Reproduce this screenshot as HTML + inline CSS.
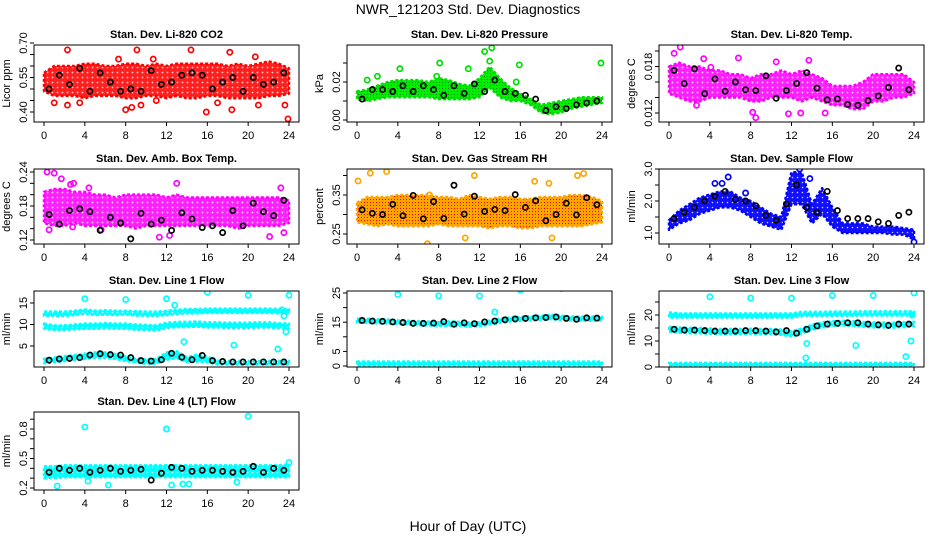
<!DOCTYPE html>
<html><head><meta charset="utf-8"><style>
html,body{margin:0;padding:0;background:#fff;}
svg{display:block;font-family:"Liberation Sans",sans-serif;}
</style></head><body>
<svg id="chart" width="936" height="540" viewBox="0 0 936 540">
<defs>
<pattern id="rhpat" width="3" height="3" patternUnits="userSpaceOnUse"><rect width="3" height="3" fill="#ffa500"/><rect x="1" y="1" width="1" height="1" fill="#ff0000"/></pattern>
<pattern id="grpat" width="3" height="3" patternUnits="userSpaceOnUse"><rect width="3" height="3" fill="#00ee00"/><rect x="1" y="1" width="1" height="1" fill="#008800"/></pattern>
<pattern id="redpat" width="5" height="5" patternUnits="userSpaceOnUse"><rect width="5" height="5" fill="#ff2020"/><circle cx="2.5" cy="2.5" r="0.9" fill="#ffd0d0"/></pattern>
<pattern id="magpat" width="5" height="5" patternUnits="userSpaceOnUse"><rect width="5" height="5" fill="#ff20ff"/><circle cx="2.5" cy="2.5" r="0.9" fill="#ffd8ff"/></pattern>
<pattern id="blupat" width="5" height="5" patternUnits="userSpaceOnUse"><rect width="5" height="5" fill="#1010ff"/><circle cx="2.5" cy="2.5" r="0.8" fill="#c8c8ff"/></pattern>
<pattern id="cynpat" width="5" height="5" patternUnits="userSpaceOnUse"><rect width="5" height="5" fill="#00ffff"/><circle cx="2.5" cy="2.5" r="0.8" fill="#d0ffff"/></pattern>
</defs>
<text x="468" y="14" text-anchor="middle" font-size="14">NWR_121203 Std. Dev. Diagnostics</text>
<text x="468" y="531" text-anchor="middle" font-size="14">Hour of Day (UTC)</text>
</svg>
<script>
const bandHours=[0,1,2,3,4,5,6,7,8,9,10,11,12,13,14,15,16,17,18,19,20,21,22,23,24];
const blackHours=[0.5,1.5,2.5,3.5,4.5,5.5,6.5,7.5,8.5,9.5,10.5,11.5,12.5,13.5,14.5,15.5,16.5,17.5,18.5,19.5,20.5,21.5,22.5,23.5];
const xTicks=[0,4,8,12,16,20,24];

// P1 CO2
const co2Lo=[0.49,0.47,0.47,0.47,0.46,0.47,0.47,0.47,0.46,0.46,0.47,0.47,0.46,0.47,0.46,0.46,0.47,0.47,0.46,0.46,0.46,0.46,0.47,0.47,0.48];
const co2Hi=[0.57,0.60,0.60,0.60,0.61,0.61,0.60,0.60,0.61,0.61,0.60,0.61,0.60,0.61,0.61,0.61,0.61,0.61,0.60,0.61,0.60,0.61,0.62,0.61,0.59];
const co2OutX=[2.3,2.3,3.5,7.3,8,8.6,9.1,9.5,10.7,14.4,15.9,18.2,18.4,20.7,23.9,23.6,21,17,11,1];
const co2OutY=[0.67,0.43,0.44,0.63,0.41,0.42,0.67,0.43,0.63,0.67,0.40,0.66,0.41,0.64,0.37,0.43,0.43,0.44,0.45,0.44];
const co2Black=[0.50,0.56,0.52,0.59,0.49,0.57,0.53,0.49,0.50,0.49,0.58,0.52,0.53,0.56,0.57,0.56,0.50,0.53,0.55,0.49,0.55,0.52,0.53,0.57];
// P2 Pressure
const presLo=[0.011,0.010,0.011,0.012,0.012,0.012,0.012,0.012,0.011,0.011,0.011,0.011,0.012,0.017,0.012,0.010,0.010,0.008,0.004,0.003,0.004,0.006,0.007,0.008,0.009];
const presHi=[0.015,0.016,0.018,0.020,0.021,0.021,0.021,0.020,0.022,0.021,0.019,0.018,0.022,0.028,0.022,0.017,0.014,0.011,0.008,0.009,0.010,0.011,0.012,0.012,0.012];
const presOutX=[4.2,8.1,10.9,12.5,13.2,13,15.9,23.9,1,2,7.8,15.6];
const presOutY=[0.027,0.030,0.027,0.036,0.038,0.031,0.029,0.030,0.021,0.023,0.023,0.020];
const presBlack=[0.011,0.016,0.016,0.015,0.018,0.015,0.018,0.016,0.013,0.018,0.014,0.019,0.015,0.021,0.015,0.014,0.013,0.011,0.005,0.007,0.006,0.008,0.009,0.010];
// P3 Temp
const tmpLo=[0.0145,0.014,0.0135,0.0135,0.014,0.014,0.014,0.014,0.0135,0.0135,0.014,0.014,0.014,0.0135,0.014,0.0135,0.013,0.013,0.0125,0.0125,0.0135,0.0135,0.014,0.014,0.0145];
const tmpHi=[0.018,0.0185,0.018,0.018,0.0175,0.0175,0.017,0.017,0.0165,0.017,0.017,0.0175,0.017,0.0175,0.017,0.0165,0.0155,0.0155,0.0155,0.016,0.017,0.017,0.017,0.017,0.016];
const tmpOutX=[1.1,0.5,3.4,6.8,8.5,8.2,11.7,12.9,15.3,10.5,13.7,4.1,2.7];
const tmpOutY=[0.0205,0.0197,0.0190,0.0191,0.0114,0.0121,0.0119,0.0120,0.0120,0.0186,0.0188,0.0179,0.0130];
const tmpBlack=[0.0175,0.0158,0.0177,0.0145,0.0164,0.0148,0.0160,0.0150,0.0149,0.0168,0.0139,0.0149,0.0158,0.0172,0.0152,0.0137,0.0138,0.0131,0.0130,0.0136,0.0142,0.0153,0.0178,0.0150];
// P4 Amb box temp
const ambLo=[0.15,0.145,0.145,0.15,0.145,0.145,0.145,0.145,0.145,0.14,0.145,0.145,0.145,0.145,0.145,0.145,0.145,0.145,0.145,0.14,0.145,0.145,0.145,0.145,0.15];
const ambHi=[0.205,0.21,0.21,0.205,0.205,0.2,0.2,0.195,0.2,0.2,0.2,0.2,0.195,0.2,0.195,0.195,0.195,0.195,0.195,0.195,0.195,0.195,0.195,0.195,0.19];
const ambOutX=[0.3,1,1.7,2.6,2.9,4.4,0.5,11.3,12.3,13,23.2,22.1,23.5,2.8,5.6];
const ambOutY=[0.24,0.238,0.228,0.218,0.22,0.212,0.138,0.125,0.128,0.22,0.212,0.126,0.133,0.143,0.138];
const ambBlack=[0.165,0.148,0.172,0.175,0.17,0.137,0.16,0.15,0.122,0.167,0.148,0.155,0.137,0.168,0.157,0.142,0.145,0.133,0.172,0.145,0.185,0.17,0.163,0.19];
// P5 Gas RH
const rhLo=[0.28,0.275,0.27,0.275,0.27,0.27,0.27,0.27,0.275,0.27,0.27,0.27,0.27,0.265,0.27,0.27,0.265,0.265,0.27,0.27,0.27,0.27,0.27,0.275,0.28];
const rhHi=[0.33,0.345,0.345,0.345,0.35,0.35,0.35,0.35,0.345,0.345,0.34,0.35,0.345,0.34,0.345,0.345,0.34,0.34,0.345,0.345,0.345,0.35,0.35,0.345,0.335];
const rhOutX=[1.3,2.9,0.1,6.9,10.6,11.5,18.8,22.2,21.6,19.1,7.1,17.4];
const rhOutY=[0.406,0.41,0.386,0.225,0.24,0.40,0.38,0.405,0.40,0.24,0.35,0.385];
const rhBlack=[0.312,0.303,0.300,0.326,0.297,0.349,0.289,0.333,0.29,0.375,0.301,0.347,0.308,0.313,0.310,0.351,0.318,0.335,0.284,0.30,0.329,0.299,0.343,0.325];
// P6 Sample flow
const sfLo=[1.1,1.3,1.4,1.6,1.7,1.8,1.8,1.7,1.5,1.3,1.2,1.1,1.9,1.9,1.3,1.6,1.2,1.0,1.0,1.0,1.0,1.0,0.95,0.95,0.8];
const sfHi=[1.4,1.7,1.9,2.1,2.2,2.3,2.3,2.1,2.0,1.8,1.6,1.5,2.9,2.9,1.9,2.4,1.8,1.3,1.3,1.3,1.2,1.2,1.2,1.15,1.1];
const sfOutX=[4.5,5.2,5.8,7.5,13.8,24,12.8];
const sfOutY=[2.55,2.55,2.75,2.25,2.7,0.72,3.0];
const sfBlack=[1.45,1.65,1.8,2.0,2.15,2.3,2.05,2.0,1.85,1.55,1.4,1.9,2.5,1.8,1.65,2.3,1.7,1.45,1.45,1.45,1.35,1.3,1.55,1.65];
// P7 Line 1 flow
const l1ALo=[12,12,12,12.2,12.5,12.2,12.3,12.2,12.3,12.1,12,12,12.2,12.4,12.6,12.6,12.7,12.7,12.7,12.7,12.7,12.7,12.7,12.6,12.6];
const l1AHi=[13,13,13,13.2,13.5,13.2,13.3,13.2,13.2,13.1,13,13,13.2,13.4,13.6,13.6,13.7,13.7,13.7,13.7,13.7,13.7,13.7,13.6,13.6];
const l1BLo=[9,8.7,8.7,8.9,9,9,9.1,9,9,8.8,8.7,8.6,9.2,9.4,9.4,9.5,9.3,9.3,9.2,9.2,9.2,9.3,9.3,9.1,9];
const l1BHi=[10.2,9.8,9.8,10,10.2,10.2,10.3,10.2,10.2,10,9.9,9.8,10.4,10.6,10.6,10.7,10.5,10.5,10.4,10.4,10.4,10.5,10.5,10.3,10.2];
const l1CLo=[1,1.2,1.5,1.7,2,2.2,2.2,2,1.5,1.1,0.9,0.9,1.8,2.2,1.2,1.4,1.2,0.7,0.7,0.7,0.7,0.7,0.7,0.7,0.7];
const l1CHi=[2,2.3,2.6,2.9,3.2,3.5,3.5,3.1,2.6,2,1.9,2,3.5,3.8,2.4,3,2.5,1.6,1.5,1.5,1.5,1.5,1.5,1.5,1.5];
const l1OutX=[4,8,12,16,20,24,18.6,13.7,22.9,23.5,23.7,23.3,12.8];
const l1OutY=[16,15.8,16,17.5,16.8,16.8,5.2,6,4.3,12,8.3,13.4,14.5];
const l1Black=[1.7,2.0,2.1,2.3,2.9,3.2,3.0,2.9,2.3,1.6,1.5,1.8,3.3,2.4,1.8,2.8,1.6,1.4,1.3,1.3,1.3,1.3,1.3,1.3];
// P8 Line 2 flow
const l2ALo=[0.2,0.2,0.2,0.2,0.2,0.2,0.2,0.2,0.2,0.2,0.2,0.2,0.2,0.2,0.2,0.2,0.2,0.2,0.2,0.2,0.2,0.2,0.2,0.2,0.2];
const l2AHi=[1.5,1.5,1.5,1.5,1.5,1.5,1.5,1.5,1.5,1.5,1.5,1.5,1.5,1.5,1.5,1.5,1.5,1.5,1.5,1.5,1.5,1.5,1.5,1.5,1.5];
const l2BLo=[14.8,14.8,14.7,14.6,14.4,14.2,14,13.9,13.7,13.8,13.7,13.5,13.6,14.2,14.8,15.3,15.5,15.7,15.8,16.1,15.8,15.6,15.5,15.5,15.6];
const l2BHi=[16.2,16.2,16.0,15.9,15.6,15.5,15.3,15.2,15,15.3,15.1,14.9,15,15.6,16.2,16.6,16.8,17,17.2,17.5,17.2,17,16.9,16.9,16.9];
const l2OutX=[4,8,12,16,20,24,13.5];
const l2OutY=[24.5,24,24,26,26.5,27,18.5];
const l2Black=[15.6,15.4,15.3,15.1,14.9,14.6,14.6,14.7,15.2,14.3,14.8,14.5,15.1,15.4,15.8,16.1,16.3,16.5,16.6,16.8,16.3,16.0,16.5,16.4];
// P9 Line 3 flow
const l3ALo=[0.4,0.4,0.4,0.4,0.4,0.4,0.4,0.4,0.4,0.4,0.4,0.4,0.4,0.4,0.4,0.4,0.4,0.4,0.4,0.4,0.4,0.4,0.4,0.4,0.4];
const l3AHi=[1.6,1.6,1.6,1.6,1.6,1.6,1.6,1.6,1.6,1.6,1.6,1.6,1.6,1.6,1.6,1.6,1.6,1.6,1.6,1.6,1.6,1.6,1.6,1.6,1.6];
const l3BLo=[19,19,19,19,19,19,19,19,19,19,19,19,19,19.6,19.6,19.6,19.7,19.7,19.7,19.8,19.8,19.8,19.8,19.8,19.8];
const l3BHi=[21,20.6,20.6,20.6,20.6,20.6,20.6,20.6,20.6,20.6,20.6,20.6,20.6,21.2,21.2,21.2,21.3,21.3,21.3,21.4,21.4,21.4,21.4,21.4,21.4];
const l3CLo=[13.5,13.2,13,13,12.8,12.6,12.6,12.6,12.7,12.6,12.6,12.4,11.8,12.8,14.3,15.2,15.8,16,15.8,15.5,15.3,15.3,15.2,15.4,15.6];
const l3CHi=[15.5,15.2,15,15,14.8,14.6,14.6,14.6,14.7,14.6,14.6,14.4,13.8,14.8,16.3,17.2,17.6,17.8,17.6,17.3,17.1,17.1,17,17.2,17.4];
const l3OutX=[4,8,12,16,20,24,13.5,13.4,18.3,23.2,23.7,23.8];
const l3OutY=[27,26.5,26.5,27.5,27.5,28.5,9,3.5,8.3,4,10,20];
const l3Black=[14.5,14.2,14.2,14.0,13.8,13.8,13.8,14.0,14.0,13.8,13.5,14.0,13.0,14.5,15.8,16.5,16.8,17.0,17.0,16.5,16.2,16.0,16.5,16.5];
// P10 Line 4 flow
const l4Lo=[0.30,0.30,0.31,0.31,0.31,0.31,0.31,0.31,0.31,0.31,0.31,0.31,0.31,0.31,0.31,0.31,0.31,0.31,0.31,0.31,0.31,0.31,0.31,0.31,0.31];
const l4Hi=[0.42,0.42,0.43,0.43,0.43,0.43,0.43,0.43,0.43,0.43,0.43,0.43,0.43,0.43,0.43,0.43,0.43,0.43,0.43,0.43,0.43,0.43,0.43,0.43,0.44];
const l4OutX=[4,12,20,1.3,6.3,12.5,4.3,24,14.2,18.9,13.6];
const l4OutY=[0.82,0.80,0.93,0.22,0.23,0.23,0.27,0.46,0.24,0.26,0.24];
const l4Black=[0.36,0.40,0.38,0.40,0.36,0.38,0.40,0.37,0.38,0.39,0.28,0.35,0.41,0.40,0.37,0.38,0.38,0.37,0.36,0.37,0.42,0.36,0.40,0.38];

const SVGNS="http://www.w3.org/2000/svg";
const svg=document.getElementById('chart');
function mk(tag,attrs,parent){const e=document.createElementNS(SVGNS,tag);for(const k in attrs)e.setAttribute(k,attrs[k]);(parent||svg).appendChild(e);return e;}

const panels=[
 {title:'Stan. Dev. Li-820 CO2',ylab:'Licor ppm',col:0,row:0,v0:0.40,p0:112,v1:0.70,p1:43,ticks:[0.40,0.45,0.50,0.55,0.60,0.65,0.70],labels:['0.40','','','0.55','','','0.70'],color:'#ff0000',fill:'url(#redpat)',bands:[[co2Lo,co2Hi]],outX:co2OutX,outY:co2OutY,black:co2Black},
 {title:'Stan. Dev. Li-820 Pressure',ylab:'kPa',col:1,row:0,v0:0,p0:120,v1:0.02,p1:82,ticks:[0,0.01,0.02,0.03],labels:['0.00','','0.02',''],color:'#00dd00',fill:'url(#grpat)',bands:[[presLo,presHi]],outX:presOutX,outY:presOutY,black:presBlack},
 {title:'Stan. Dev. Li-820 Temp.',ylab:'degrees C',col:2,row:0,v0:0.012,p0:113,v1:0.020,p1:51,ticks:[0.012,0.014,0.016,0.018,0.020],labels:['0.012','','','0.018',''],color:'#ff00ff',fill:'url(#magpat)',bands:[[tmpLo,tmpHi]],outX:tmpOutX,outY:tmpOutY,black:tmpBlack},
 {title:'Stan. Dev. Amb. Box Temp.',ylab:'degrees C',col:0,row:1,v0:0.12,p0:240,v1:0.24,p1:172,ticks:[0.12,0.14,0.16,0.18,0.20,0.22,0.24],labels:['0.12','','','0.18','','','0.24'],color:'#ff00ff',fill:'url(#magpat)',bands:[[ambLo,ambHi]],outX:ambOutX,outY:ambOutY,black:ambBlack},
 {title:'Stan. Dev. Gas Stream RH',ylab:'percent',col:1,row:1,v0:0.25,p0:234,v1:0.35,p1:195,ticks:[0.25,0.30,0.35,0.40],labels:['0.25','','0.35',''],color:'#ffa500',fill:'url(#rhpat)',bands:[[rhLo,rhHi]],outX:rhOutX,outY:rhOutY,black:rhBlack},
 {title:'Stan. Dev. Sample Flow',ylab:'ml/min',col:2,row:1,v0:1.0,p0:233,v1:3.0,p1:169,ticks:[1.0,1.5,2.0,2.5,3.0],labels:['1.0','','2.0','','3.0'],color:'#0000ff',fill:'url(#blupat)',bands:[[sfLo,sfHi]],outX:sfOutX,outY:sfOutY,black:sfBlack},
 {title:'Stan. Dev. Line 1 Flow',ylab:'ml/min',col:0,row:2,v0:5,p0:346,v1:15,p1:303,ticks:[5,10,15],labels:['5','10','15'],color:'#00ffff',fill:'url(#cynpat)',bands:[[l1ALo,l1AHi],[l1BLo,l1BHi],[l1CLo,l1CHi]],outX:l1OutX,outY:l1OutY,black:l1Black},
 {title:'Stan. Dev. Line 2 Flow',ylab:'ml/min',col:1,row:2,v0:0,p0:366,v1:25,p1:293,ticks:[0,5,10,15,20,25],labels:['0','5','','15','','25'],color:'#00ffff',fill:'url(#cynpat)',bands:[[l2ALo,l2AHi],[l2BLo,l2BHi]],outX:l2OutX,outY:l2OutY,black:l2Black},
 {title:'Stan. Dev. Line 3 Flow',ylab:'ml/min',col:2,row:2,v0:0,p0:367,v1:20,p1:315,ticks:[0,5,10,15,20,25],labels:['0','','10','','20',''],color:'#00ffff',fill:'url(#cynpat)',bands:[[l3ALo,l3AHi],[l3BLo,l3BHi],[l3CLo,l3CHi]],outX:l3OutX,outY:l3OutY,black:l3Black},
 {title:'Stan. Dev. Line 4 (LT) Flow',ylab:'ml/min',col:0,row:3,v0:0.2,p0:488,v1:0.8,p1:429,ticks:[0.2,0.3,0.4,0.5,0.6,0.7,0.8,0.9],labels:['0.2','','','0.5','','','0.8',''],color:'#00ffff',fill:'url(#cynpat)',bands:[[l4Lo,l4Hi]],outX:l4OutX,outY:l4OutY,black:l4Black}
];
const colLeft=[34,347,659], rowTop=[45,169,291,412], rowBot=[122,244,367,490];
const BW=265;

panels.forEach((p,i)=>{
  const L=colLeft[p.col],T=rowTop[p.row],B=rowBot[p.row];
  const xs=h=>L+10+h*(245/24);
  const ys=v=>p.p0+(v-p.v0)*(p.p1-p.p0)/(p.v1-p.v0);
  const g=mk('g',{});
  
  
  const clipId='clip'+i;
  const cp=mk('clipPath',{id:clipId},g);mk('rect',{x:L,y:T,width:BW,height:B-T},cp);
  const t=mk('text',{x:L+BW/2,y:T-7,'text-anchor':'middle','font-size':'11','font-weight':'bold'},g);
  t.textContent=p.title;
  
  
  const yl=mk('text',{x:0,y:0,transform:`translate(${L-24},${(T+B)/2}) rotate(-90)`,'text-anchor':'middle','font-size':'11'},g);
  yl.textContent=p.ylab;
  
  
  const plot=mk('g',{'clip-path':`url(#${clipId})`},g);
  
  
  p.bands.forEach(b=>{
    let pts=bandHours.map((h,k)=>xs(h)+','+ys(b[1][k]));
    pts=pts.concat(bandHours.map((h,k)=>xs(h)+','+ys(b[0][k])).reverse());
    const poly=mk('polygon',{points:pts.join(' '),fill:p.fill,stroke:p.color,'stroke-width':2.5,'stroke-linejoin':'round','stroke-dasharray':'3 2'},plot);
    
    
  });
  p.outX.forEach((h,k)=>{
    const c=mk('circle',{cx:xs(h),cy:ys(p.outY[k]),r:2.6,fill:'none',stroke:p.color,'stroke-width':1.7},plot);
    
    
  });
  blackHours.forEach((h,k)=>{
    const c=mk('circle',{cx:xs(h),cy:ys(p.black[k]),r:2.6,fill:'none',stroke:'#000','stroke-width':1.7},plot);
    
    
  });
  const box=mk('rect',{x:L,y:T,width:BW,height:B-T,fill:'none',stroke:'#000','stroke-width':1},g);
  
  
  xTicks.forEach(h=>{
    mk('line',{x1:xs(h),x2:xs(h),y1:B,y2:B+4,stroke:'#000'},g);
    const tl=mk('text',{x:xs(h),y:B+17,'text-anchor':'middle','font-size':'11'},g);
    tl.textContent=h;
    
    
  });
  p.ticks.forEach((v,k)=>{
    const y=ys(v); if(y<T-2||y>B+2)return;
    mk('line',{x1:L-4,x2:L,y1:y,y2:y,stroke:'#000'},g);
    if(p.labels[k]){
      const tl=mk('text',{x:0,y:0,transform:`translate(${L-7},${y}) rotate(-90)`,'text-anchor':'middle','font-size':'11'},g);
      tl.textContent=p.labels[k];
      
      
    }
  });
});
</script>
</body></html>
